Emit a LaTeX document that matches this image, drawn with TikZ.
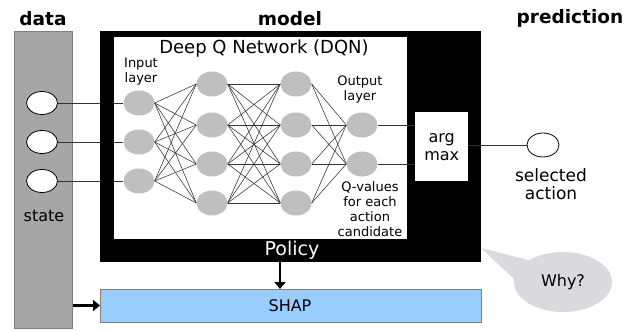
\documentclass[tikz,border=0pt]{standalone}
\usepackage{fontspec}
\setmainfont{DejaVu Sans}
\usetikzlibrary{arrows.meta,shapes.geometric}
\definecolor{colgray}{HTML}{A6A6A6}
\definecolor{colborder}{HTML}{7F7F7F}
\definecolor{nodegray}{HTML}{BFBFBF}
\definecolor{shapblue}{HTML}{99CCFF}
\definecolor{bubble}{HTML}{D9D9DE}
\tikzset{
  title/.style={font=\fontsize{18.5}{20}\selectfont\bfseries},
  lbl/.style={font=\fontsize{16}{18}\selectfont},
  small/.style={font=\fontsize{13}{15}\selectfont, align=center},
  neuron/.style={ellipse, fill=nodegray, minimum width=31pt, minimum height=25pt, inner sep=0pt},
  dataell/.style={ellipse, draw=black, fill=white, line width=0.8pt, minimum width=31pt, minimum height=23pt, inner sep=0pt},
  conn/.style={draw=black!80, line width=0.55pt},
  bigarrow/.style={line width=2.6pt, -{Triangle[length=7pt,width=11pt]}},
}
\begin{document}
\begin{tikzpicture}[x=1pt,y=-1pt]
\useasboundingbox (0,0) rectangle (629,331);
% titles
\node[title] (tdata) at (43,19) {data};
\node[title] (tmodel) at (290,19) {model};
\node[title] (tpred) at (570,18) {prediction};
% data column
\node[draw=colborder, fill=colgray, line width=0.8pt, minimum width=58pt, minimum height=297pt, inner sep=0pt, anchor=north west] (data) at (14,31) {};
% model box
\node[fill=black, minimum width=381pt, minimum height=231pt, inner sep=0pt, anchor=north west] (model) at (100,31) {};
\node[fill=white, minimum width=293pt, minimum height=202pt, inner sep=0pt, anchor=north west] (dqn) at (114,37) {};
\node[fill=white, minimum width=53pt, minimum height=69pt, inner sep=0pt, anchor=north west, lbl, align=center] (argmax) at (415,112) {arg\\max};
\node[font=\fontsize{19}{20}\selectfont, text=white] (policy) at (292,250) {Policy};
\node[font=\fontsize{18}{20}\selectfont] (dqntitle) at (264,49) {Deep Q Network (DQN)};
% SHAP
\node[draw=colborder, fill=shapblue, line width=0.8pt, minimum width=381pt, minimum height=33pt, inner sep=0pt, anchor=north west, lbl] (shap) at (100,289) {};
\node[lbl] (shaptext) at (290,305.5) {SHAP};
% data ellipses
\node[dataell] (d1) at (42,103) {};
\node[dataell] (d2) at (42,142) {};
\node[dataell] (d3) at (42,181) {};
\node[lbl] (state) at (44,216) {state};
% neurons
\node[neuron] (i1) at (139,103) {};
\node[neuron] (i2) at (139,142) {};
\node[neuron] (i3) at (139,181) {};
\foreach \k/\y in {1/84,2/125,3/164,4/203}{
  \node[neuron] (h\k) at (212,\y) {};
  \node[neuron] (g\k) at (296,\y) {};
}
\node[neuron] (o1) at (362,125) {};
\node[neuron] (o2) at (362,164) {};
% connections
\foreach \a in {1,2,3}{ \foreach \b in {1,2,3,4}{ \draw[conn] (i\a.east) -- (h\b.west); } }
\foreach \a in {1,2,3,4}{ \foreach \b in {1,2,3,4}{ \draw[conn] (h\a.east) -- (g\b.west); } }
\foreach \a in {1,2,3,4}{ \foreach \b in {1,2}{ \draw[conn] (g\a.east) -- (o\b.west); } }
\foreach \a in {1,2,3}{ \draw[conn] (d\a.east) -- (d\a -| model.west); \draw[conn] (i\a -| dqn.west) -- (i\a.west); }
\draw[conn] (o1.east) -- (o1 -| argmax.west);
\draw[conn] (o2.east) -- (o2 -| argmax.west);
% labels
\node[small] (inlbl) at (141,72) {Input\\layer};
\node[small] (outlbl) at (360,90) {Output\\layer};
\node[small] (qlbl) at (370,209) {Q-values\\for each\\action\\candidate};
% prediction
\node[ellipse, draw=black, line width=0.8pt, minimum width=32pt, minimum height=24pt, inner sep=0pt] (sel) at (543,145) {};
\draw[conn] (argmax.east |- sel) -- (sel.west);
\node[font=\fontsize{17}{18}\selectfont, align=center] (sellbl) at (551,184) {selected\\action};
% arrows
\coordinate (pa) at (280,262);
\draw[bigarrow] (pa) -- (pa |- shap.north);
\draw[bigarrow] (data.east |- shaptext) -- (shap.west |- shaptext);
% callout
\coordinate (tip) at (481,248);
\fill[bubble] (tip) -- (536,262) -- (528,292) -- cycle;
\node[ellipse, fill=bubble, minimum width=98pt, minimum height=60pt, inner sep=0pt, lbl] (why) at (563,282) {Why?};
\end{tikzpicture}
\end{document}
